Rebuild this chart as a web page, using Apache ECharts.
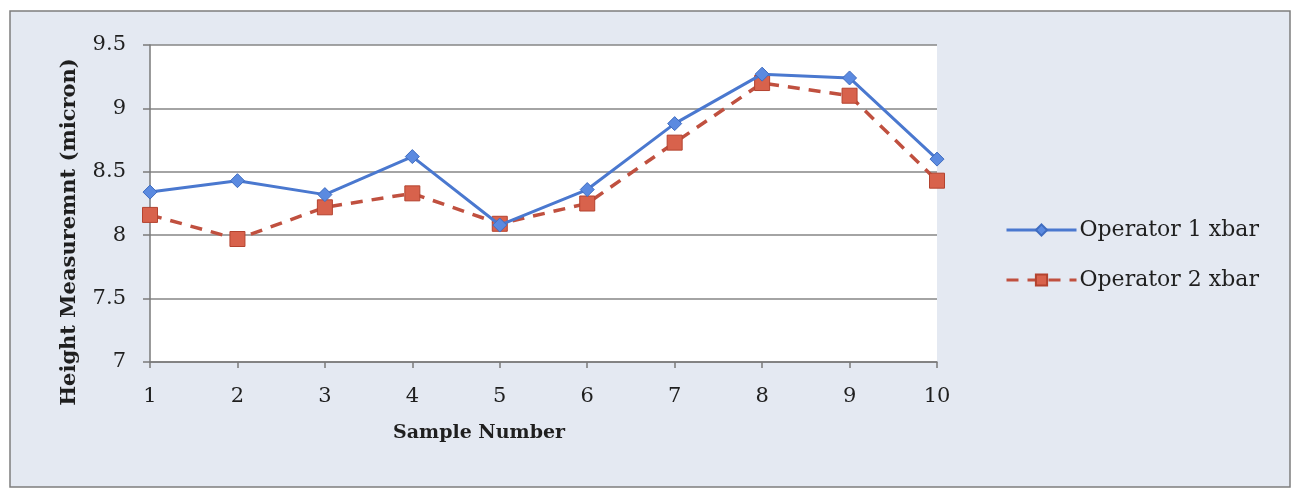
<!DOCTYPE html>
<html>
<head>
<meta charset="utf-8">
<script src="https://cdn.jsdelivr.net/npm/echarts@6/dist/echarts.min.js"></script>
<style>
  html, body { margin: 0; padding: 0; background: #ffffff; }
  #chart { width: 1299px; height: 489px; }
</style>
</head>
<body>
<div id="chart"></div>
<script>
// Sample numbers along the x axis
const samples = ['1', '2', '3', '4', '5', '6', '7', '8', '9', '10'];
// Mean height per sample for each operator (micron)
const operator1 = [8.34, 8.43, 8.32, 8.62, 8.08, 8.36, 8.88, 9.27, 9.24, 8.60];
const operator2 = [8.16, 7.97, 8.22, 8.33, 8.09, 8.25, 8.73, 9.20, 9.10, 8.43];
const seriesNames = ['Operator 1 xbar', 'Operator 2 xbar'];
const xTitle = 'Sample Number';
const yTitle = 'Height Measuremnt (micron)';

const FONT = '"DejaVu Serif", "Liberation Serif", serif';
const TEXT = '#1f1f1f';
const AXIS = '#7a7a7a';

const chart = echarts.init(document.getElementById('chart'), null, { renderer: 'canvas' });

chart.setOption({
  backgroundColor: '#ffffff',
  animation: false,
  textStyle: { fontFamily: FONT },
  graphic: [
    {
      type: 'rect',
      z: -10,
      silent: true,
      shape: { x: 10, y: 11, width: 1280, height: 476 },
      style: { fill: '#e4e9f2', stroke: '#7d7d7d', lineWidth: 1.5 }
    },
    {
      type: 'text',
      left: 393,
      top: 424,
      style: { text: xTitle, font: 'bold 19px ' + FONT, fill: TEXT }
    },
    {
      type: 'text',
      x: 70,
      y: 232,
      rotation: Math.PI / 2,
      style: {
        text: yTitle,
        font: 'bold 21px ' + FONT,
        fill: TEXT,
        align: 'center',
        verticalAlign: 'middle'
      }
    }
  ],
  grid: {
    left: 150,
    right: 362,
    top: 45,
    bottom: 127,
    show: true,
    backgroundColor: '#ffffff',
    borderWidth: 0
  },
  legend: {
    orient: 'vertical',
    left: 1000,
    top: 214,
    itemWidth: 70,
    itemHeight: 14,
    itemGap: 28,
    data: seriesNames,
    lineStyle: { width: 3 },
    textStyle: { fontFamily: FONT, fontSize: 22, color: TEXT, padding: [0, 0, 0, -2] }
  },
  xAxis: {
    type: 'category',
    data: samples,
    boundaryGap: false,
    axisLine: { lineStyle: { color: AXIS, width: 1.5 } },
    axisTick: { show: true, length: 6, lineStyle: { color: AXIS, width: 1.5 } },
    axisLabel: { fontFamily: FONT, fontSize: 21, color: TEXT, margin: 24 },
    splitLine: { show: false }
  },
  yAxis: {
    type: 'value',
    min: 7,
    max: 9.5,
    interval: 0.5,
    axisLine: { show: true, lineStyle: { color: AXIS, width: 1.5 } },
    axisTick: { show: true, length: 7, lineStyle: { color: AXIS, width: 1.5 } },
    axisLabel: { fontFamily: FONT, fontSize: 21, color: TEXT, margin: 24 },
    splitLine: { show: true, lineStyle: { color: '#868686', width: 1.5 } }
  },
  series: [
    {
      name: seriesNames[0],
      type: 'line',
      data: operator1,
      symbol: 'diamond',
      symbolSize: 14,
      z: 3,
      lineStyle: { color: '#4a78cf', width: 3 },
      itemStyle: { color: '#5b8ae0', borderColor: '#3f6cc0', borderWidth: 1 }
    },
    {
      name: seriesNames[1],
      type: 'line',
      data: operator2,
      symbol: 'rect',
      symbolSize: 15,
      z: 2,
      lineStyle: { color: '#c0503f', width: 3.5, type: [12, 9] },
      itemStyle: { color: '#d8624c', borderColor: '#b4432f', borderWidth: 1 }
    }
  ]
});
</script>
</body>
</html>
